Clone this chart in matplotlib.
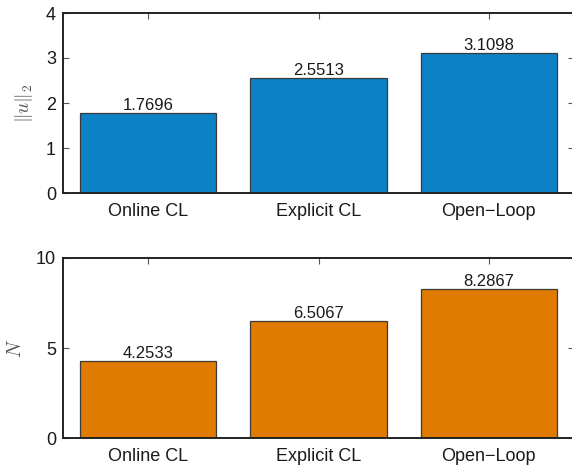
import matplotlib
matplotlib.use("Agg")
import matplotlib.pyplot as plt

categories = ["Online CL", "Explicit CL", "Open\u2212Loop"]
u_norm = [1.7696, 2.5513, 3.1098]
n_steps = [4.2533, 6.5067, 8.2867]
value_labels_u = ["1.7696", "2.5513", "3.1098"]
value_labels_n = ["4.2533", "6.5067", "8.2867"]

W, H = 572, 469
fig = plt.figure(figsize=(W / 100, H / 100), dpi=100)
plt.rcParams["font.family"] = ["Liberation Sans", "DejaVu Sans"]
plt.rcParams["mathtext.fontset"] = "cm"

def px_axes(x0, y0, x1, y1):
    return fig.add_axes([x0 / W, 1 - y1 / H, (x1 - x0) / W, (y1 - y0) / H])

def draw(ax, vals, labels, color, ylim, yticks, ylabel):
    x = range(1, len(vals) + 1)
    ax.bar(x, vals, width=0.8, color=color, edgecolor="#3a3a3a", linewidth=0.9, zorder=2)
    for xi, v, lab in zip(x, vals, labels):
        ax.text(xi, v, lab, ha="center", va="bottom", fontsize=12, color="#1a1a1a")
    ax.set_xlim(0.5, 3.5)
    ax.set_ylim(*ylim)
    ax.set_yticks(yticks)
    ax.set_xticks(list(x))
    ax.set_xticklabels(categories)
    ax.tick_params(axis="both", direction="in", length=4, width=0.8, color="#555555",
                   labelsize=13, labelcolor="#1a1a1a", top=True, right=True)
    ax.tick_params(axis="x", length=4, pad=7)
    ax.tick_params(axis="y", pad=5)
    for s in ax.spines.values():
        s.set_linewidth(1.4)
        s.set_color("#222222")
    ax.set_ylabel(ylabel, fontsize=14, color="#555555", labelpad=8)

ax1 = px_axes(63, 13, 574, 193)
draw(ax1, u_norm, value_labels_u, "#0c81c6", (0, 4), [0, 1, 2, 3, 4], r"$\|u\|_2$")

ax2 = px_axes(63, 258, 574, 438)
draw(ax2, n_steps, value_labels_n, "#df7b00", (0, 10), [0, 5, 10], r"$N$")

fig.savefig("out.png", dpi=100)
